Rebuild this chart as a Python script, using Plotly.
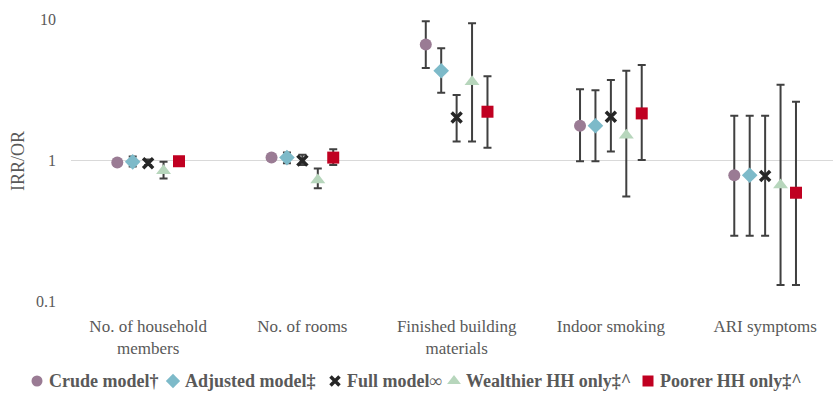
import plotly.graph_objects as go

# Exposure categories (x axis)
categories = ["No. of household<br>members", "No. of rooms", "Finished building<br>materials",
              "Indoor smoking", "ARI symptoms"]

# Point estimates and 95% CI bounds per model
series_names = ["Crude model†", "Adjusted model‡", "Full model∞", "Wealthier HH only‡^", "Poorer HH only‡^"]

crude_est = [0.96, 1.04, 6.6, 1.75, 0.78]
crude_lo = [0.94, 1.01, 4.49, 0.98, 0.29]
crude_hi = [0.99, 1.07, 9.63, 3.17, 2.06]

adjusted_est = [0.97, 1.04, 4.30, 1.75, 0.78]
adjusted_lo = [0.90, 0.95, 3.0, 0.98, 0.29]
adjusted_hi = [1.06, 1.13, 6.2, 3.12, 2.06]

full_est = [0.95, 0.99, 2.0, 2.03, 0.77]
full_lo = [0.92, 0.92, 1.35, 1.15, 0.29]
full_hi = [1.01, 1.09, 2.89, 3.69, 2.06]

wealthier_est = [0.84, 0.72, 3.59, 1.5, 0.665]
wealthier_lo = [0.74, 0.63, 1.35, 0.55, 0.13]
wealthier_hi = [0.97, 0.87, 9.32, 4.3, 3.42]

poorer_est = [0.98, 1.04, 2.2, 2.14, 0.586]
poorer_lo = [0.93, 0.92, 1.22, 1.0, 0.13]
poorer_hi = [1.05, 1.19, 3.92, 4.72, 2.59]

y_ticks = [0.1, 1, 10]
y_tick_labels = ["0.1", "1", "10"]

estimates = [crude_est, adjusted_est, full_est, wealthier_est, poorer_est]
lowers = [crude_lo, adjusted_lo, full_lo, wealthier_lo, poorer_lo]
uppers = [crude_hi, adjusted_hi, full_hi, wealthier_hi, poorer_hi]

# Marker styles for each model
styles = [
    dict(symbol="circle", size=12, color="#9A7B94"),
    dict(symbol="diamond", size=12, color="#7DBAC9"),
    dict(symbol="x-thin", size=10, color="#262626", line=dict(width=3.5, color="#262626")),
    dict(symbol="triangle-up", size=13, color="#B7D6BC"),
    dict(symbol="square", size=12, color="#C00021"),
]
offsets = [-0.2, -0.1, 0.0, 0.1, 0.2]

W, H = 835, 399
serif = "Liberation Serif, Times New Roman, serif"
text_color = "#595959"

fig = go.Figure()
for name, est, lo, hi, st, off in zip(series_names, estimates, lowers, uppers, styles, offsets):
    xs = [i + off for i in range(len(categories))]
    fig.add_trace(go.Scatter(
        x=xs, y=est, mode="markers", name=name, showlegend=False,
        marker=st,
        error_y=dict(type="data", symmetric=False,
                     array=[h - e for h, e in zip(hi, est)],
                     arrayminus=[e - l for e, l in zip(est, lo)],
                     color="#404040", thickness=2, width=4),
    ))

# Compact single-row key below the chart, drawn on its own pixel-scaled axes
key_symbol_x = [37, 173, 335, 454, 648]
key_text_gap = 10
key_y_px = 381
for name, st, sx in zip(series_names, styles, key_symbol_x):
    key_marker = dict(st)
    key_marker["size"] = st["size"] - 1
    fig.add_trace(go.Scatter(
        x=[sx], y=[0.5], mode="markers", marker=key_marker, showlegend=False,
        xaxis="x2", yaxis="y2", hoverinfo="skip",
    ))
    fig.add_annotation(
        text=name, x=(sx + key_text_gap) / W, y=1 - key_y_px / H, xref="paper", yref="paper",
        xanchor="left", yanchor="middle", showarrow=False,
        font=dict(family=serif, size=18, color=text_color, weight="bold"),
    )

# Y axis title
fig.add_annotation(
    text="IRR/OR", textangle=-90, x=18 / W, y=1 - 161 / H, xref="paper", yref="paper",
    xanchor="center", yanchor="middle", showarrow=False,
    font=dict(family=serif, size=18, color=text_color),
)

plot_left, plot_right, plot_top, plot_bottom = 71, 833, 19, 301

fig.update_layout(
    width=W, height=H,
    margin=dict(l=0, r=0, t=0, b=0, autoexpand=False),
    paper_bgcolor="white", plot_bgcolor="white",
    font=dict(family=serif, size=16, color=text_color),
    showlegend=False,
    xaxis=dict(domain=[plot_left / W, plot_right / W], anchor="y",
               range=[-0.5, 4.44], tickvals=list(range(len(categories))), ticktext=categories,
               tickangle=0, showgrid=False, zeroline=False, showline=False, ticks="",
               ticklabelstandoff=13, tickfont=dict(size=17, color=text_color)),
    yaxis=dict(domain=[1 - plot_bottom / H, 1 - plot_top / H], anchor="x",
               type="log", range=[-1, 1], tickvals=y_ticks, ticktext=y_tick_labels,
               showgrid=True, gridcolor="#D9D9D9", gridwidth=1.2, zeroline=False, showline=False,
               ticks="", ticklabelstandoff=14, tickfont=dict(size=16, color=text_color)),
    xaxis2=dict(domain=[0, 1], range=[0, W], anchor="y2", visible=False, fixedrange=True),
    yaxis2=dict(domain=[1 - 392 / H, 1 - 370 / H], range=[0, 1], anchor="x2",
                visible=False, fixedrange=True),
)

fig.write_html("out.html")
